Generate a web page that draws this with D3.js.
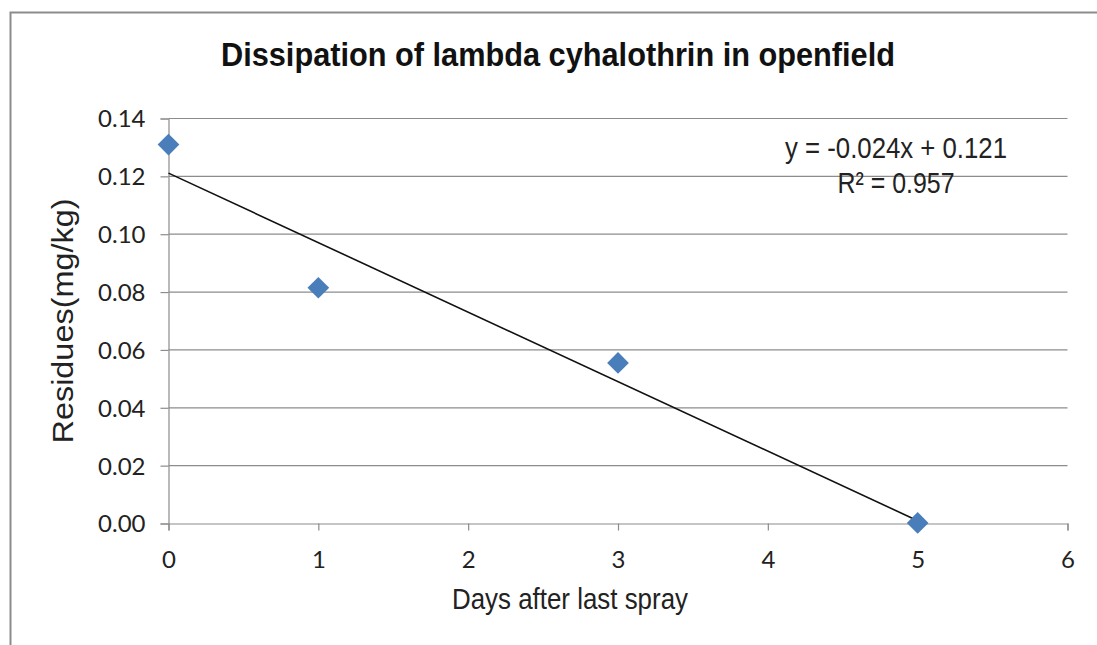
<!DOCTYPE html>
<html>
<head>
<meta charset="utf-8">
<script src="https://cdn.jsdelivr.net/npm/d3@7"></script>
<style>
  body { margin: 0; background: #fff; }
  .narrow { font-family: "Liberation Sans Narrow", "Arial Narrow", "Liberation Sans", sans-serif; }
  .tick text { font-family: Lato, Carlito, "Open Sans", sans-serif; }
</style>
</head>
<body>
<svg class="svg"></svg>
<script>
// data
const days = [0, 1, 3, 5];
const residues = [0.131, 0.0815, 0.0555, 0.0002];
const xTicks = [0, 1, 2, 3, 4, 5, 6];
const yTicks = [0, 0.02, 0.04, 0.06, 0.08, 0.10, 0.12, 0.14];
const titleText = 'Dissipation of lambda cyhalothrin in openfield';
const eqText = 'y = -0.024x + 0.121';
const r2Text = 'R² = 0.957';

const width = 1097;
const height = 645;

const svg = d3.select('.svg').attr('width', width).attr('height', height);

// frame (only left + top visible in the crop)
svg.append('path')
  .attr('d', `M 10.5 ${height} L 10.5 12.5 L ${width} 12.5`)
  .attr('fill', 'none')
  .attr('stroke', '#8c8c8c')
  .attr('stroke-width', 2);

const x = d3.scaleLinear().domain([0, 6]).range([168.5, 1067.5]);
const y = d3.scaleLinear().domain([0, 0.14]).range([523.5, 118.5]);

// gridlines
svg.append('g')
  .selectAll('line')
  .data(yTicks.filter(d => d > 0))
  .join('line')
  .attr('x1', x(0)).attr('x2', x(6))
  .attr('y1', d => y(d)).attr('y2', d => y(d))
  .attr('stroke', '#8c8c8c')
  .attr('stroke-width', 1.2);

const xAxis = svg.append('g')
  .attr('transform', `translate(0,${y(0)})`)
  .call(d3.axisBottom(x).tickValues(xTicks).tickFormat(d3.format('d')).tickSize(7).tickPadding(20));

const yAxis = svg.append('g')
  .attr('transform', `translate(${x(0)},0)`)
  .call(d3.axisLeft(y).tickValues(yTicks).tickFormat(d3.format('.2f')).tickSize(8).tickPadding(15));

[xAxis, yAxis].forEach(a => {
  a.select('.domain').attr('stroke', '#8c8c8c').attr('stroke-width', 1.2);
  a.selectAll('.tick line').attr('stroke', '#8c8c8c').attr('stroke-width', 1.2);
  a.selectAll('.tick text').attr('fill', '#222').style('font-size', '24px');
});
yAxis.selectAll('.tick text').attr('dy', '0.35em');

// linear trendline from least squares
const mx = d3.mean(days), my = d3.mean(residues);
const slope = d3.sum(days, (d, i) => (d - mx) * (residues[i] - my)) / d3.sum(days, d => (d - mx) ** 2);
const intercept = my - slope * mx;
const trendX = d3.extent(days);

svg.append('line')
  .attr('x1', x(trendX[0])).attr('y1', y(intercept + slope * trendX[0]))
  .attr('x2', x(trendX[1])).attr('y2', y(intercept + slope * trendX[1]))
  .attr('stroke', '#111')
  .attr('stroke-width', 1.6);

// diamond markers
const diamond = d3.symbol().type(d3.symbolDiamond2).size(300);
svg.append('g')
  .selectAll('path')
  .data(days)
  .join('path')
  .attr('d', diamond)
  .attr('transform', (d, i) => `translate(${x(d)},${y(residues[i])})`)
  .attr('fill', '#4a7ebb');

// texts, squeezed to mimic the narrow face
function label(txt, px, py, size, len, bold) {
  return svg.append('text')
    .attr('class', 'narrow')
    .attr('x', px).attr('y', py)
    .attr('text-anchor', 'middle')
    .attr('textLength', len)
    .attr('lengthAdjust', 'spacingAndGlyphs')
    .style('font-size', size + 'px')
    .style('font-weight', bold ? 'bold' : 'normal')
    .attr('fill', bold ? '#111' : '#222')
    .text(txt);
}

label(titleText, 558, 66, 33, 674, true);
label(eqText, 896, 158, 30, 222, false);
label(r2Text, 896, 193, 30, 117, false);
label('Days after last spray', 570, 609, 29, 236, false);
label('Residues(mg/kg)', 0, 0, 29, 245, false)
  .attr('transform', `translate(73,${(y(0) + y(0.14)) / 2}) rotate(-90)`);
</script>
</body>
</html>
